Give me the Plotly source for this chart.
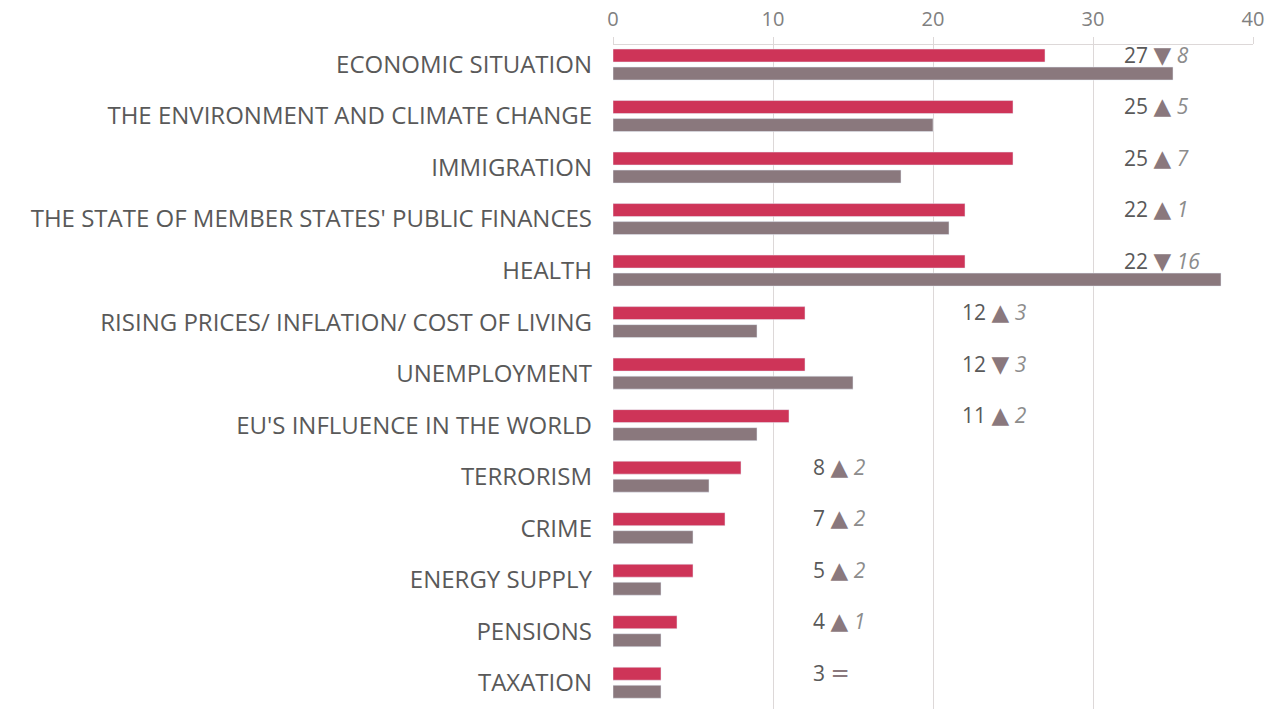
import plotly.graph_objects as go

categories = [
    "ECONOMIC SITUATION",
    "THE ENVIRONMENT AND CLIMATE CHANGE",
    "IMMIGRATION",
    "THE STATE OF MEMBER STATES' PUBLIC FINANCES",
    "HEALTH",
    "RISING PRICES/ INFLATION/ COST OF LIVING",
    "UNEMPLOYMENT",
    "EU'S INFLUENCE IN THE WORLD",
    "TERRORISM",
    "CRIME",
    "ENERGY SUPPLY",
    "PENSIONS",
    "TAXATION",
]
current = [27, 25, 25, 22, 22, 12, 12, 11, 8, 7, 5, 4, 3]
previous = [35, 20, 18, 21, 38, 9, 15, 9, 6, 5, 3, 3, 3]
x_ticks = [0, 10, 20, 30, 40]

RED = "#CE3458"
GREY = "#8A787D"
TEXT = "#595959"
FONT = "Open Sans"

fig = go.Figure()
fig.add_trace(go.Bar(y=categories, x=current, orientation="h", marker_color=RED,
                     name="current", showlegend=False))
fig.add_trace(go.Bar(y=categories, x=previous, orientation="h", marker_color=GREY,
                     name="previous", showlegend=False))

# annotation column positions (groups of rows)
def label_x(i):
    if i < 5:
        return 31.8
    if i < 8:
        return 21.7
    return 12.4

for i, (cat, c, p) in enumerate(zip(categories, current, previous)):
    d = c - p
    if d > 0:
        arrow, chg = "▲", f"<i>{d}</i>"
    elif d < 0:
        arrow, chg = "▼", f"<i>{-d}</i>"
    else:
        arrow, chg = "=", ""
    txt = (f"{c} <span style='color:{GREY};font-family:DejaVu Sans;font-size:23px'>{arrow}</span> "
           f"<span style='color:#8c8c8c'>{chg}</span>")
    fig.add_annotation(x=label_x(i), y=cat, text=txt, showarrow=False,
                       xanchor="left", yanchor="middle", yshift=10,
                       font=dict(family=FONT, size=21, color=TEXT))

fig.update_layout(
    width=1288, height=709,
    margin=dict(l=613, r=35, t=45, b=0),
    paper_bgcolor="white", plot_bgcolor="white",
    barmode="group", bargap=0.30, bargroupgap=0.28,
    font=dict(family=FONT, color=TEXT),
)
fig.update_xaxes(side="top", range=[0, 40], tickvals=x_ticks, automargin=False,
                 showgrid=True, gridcolor="#DDD8D8", gridwidth=1,
                 showline=True, linecolor="#DDD8D8", ticks="outside",
                 ticklen=7, tickcolor="#DDD8D8", ticklabelstandoff=3,
                 tickfont=dict(family=FONT, size=20, color="#808080"),
                 zeroline=False)
fig.update_yaxes(range=[12.51, -0.379], showgrid=False, ticks="", automargin=False,
                 ticklabelstandoff=20,
                 tickfont=dict(family=FONT, size=24, color=TEXT))

fig.write_html("out.html",
               config={"displayModeBar": False},
               post_script="document.body.style.margin='0';document.body.style.overflow='hidden';")
